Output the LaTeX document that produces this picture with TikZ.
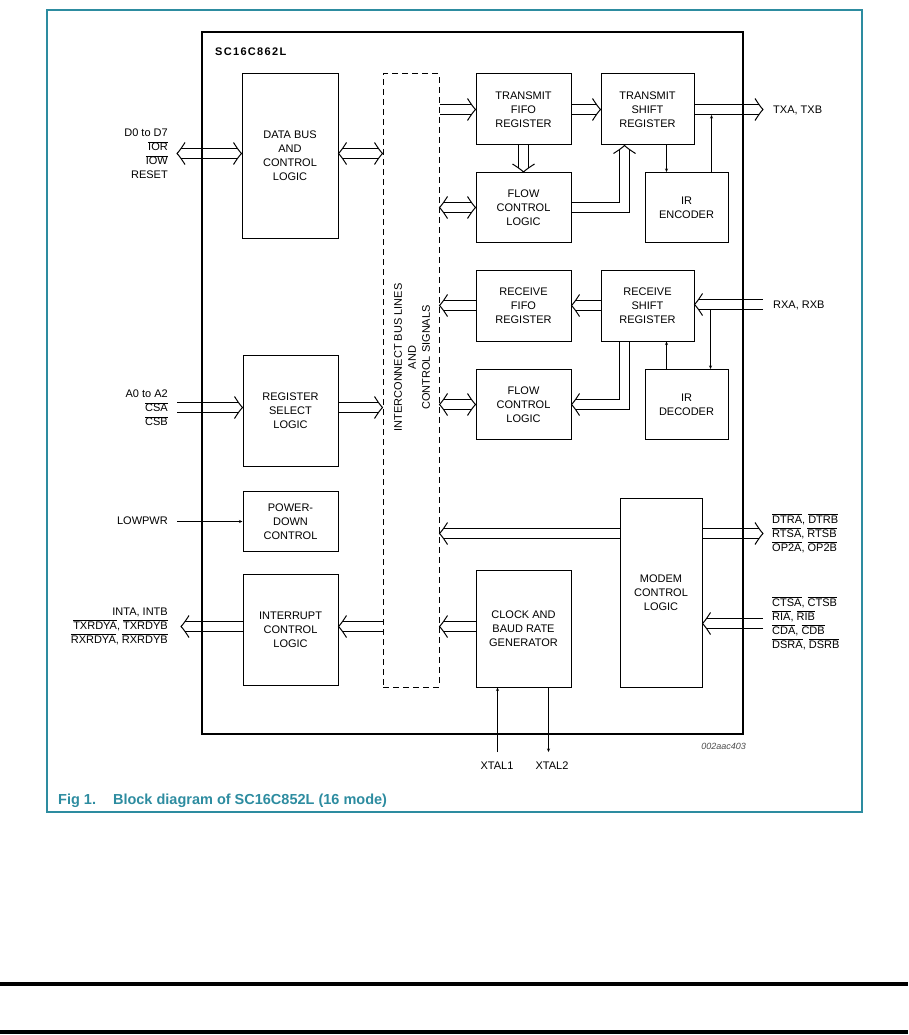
\documentclass[tikz,border=0pt]{standalone}
\usepackage{fontspec}
\setmainfont{Liberation Sans}
\usetikzlibrary{arrows.meta,backgrounds}
\definecolor{figteal}{RGB}{45,140,160}
\newcommand{\ovl}[1]{$\overline{\hbox{#1}}$}

\begin{document}
\begin{tikzpicture}[x=1pt,y=-1pt,
  blk/.style={draw,line width=1pt,align=center,inner sep=0pt,font=\fontsize{11}{14}\selectfont},
  bus/.style={double distance=9pt,line width=1pt},
  busE/.style={bus,shorten >=4pt},
  busB/.style={bus,shorten <=4pt,shorten >=4pt},
  bushd/.pic={\draw[line width=1pt] (-8,-11) .. controls (-6,-8) and (-3,-3) .. (0,0) .. controls (-3,3) and (-6,8) .. (-8,11);},
  sig/.style={line width=1pt,-{Stealth[length=3.5pt,width=3pt]}},
  pinlbl/.style={align=#1,inner sep=0pt,font=\fontsize{11}{14}\selectfont}]
  \useasboundingbox (0,0) rectangle (908,1035);
  \draw[figteal,line width=2pt] (47,10) rectangle (862,812);
  \fill (0,982) rectangle (908,986);
  \fill (0,1030) rectangle (908,1034);

  % chip outline and blocks
  \node[draw,line width=1.2pt,minimum width=541pt,minimum height=702pt] (chip) at (472.5,383) {};
  \node[anchor=west,inner sep=0pt,font=\fontsize{11}{13}\selectfont\bfseries\addfontfeature{LetterSpace=12}] (title) at (215,52) {SC16C862L};
  \node[blk,minimum width=96pt,minimum height=164pt] (databus) at (290,156) {DATA BUS\\AND\\CONTROL\\LOGIC};
  \node[draw,line width=1pt,minimum width=56pt,minimum height=613pt,dash pattern=on 6pt off 4pt] (icon) at (411,380.5) {};
  \node[pinlbl=center,rotate=90] (icontext) at (412,357.5) {INTERCONNECT BUS LINES\\AND\\CONTROL SIGNALS};
  \node[blk,minimum width=95pt,minimum height=71pt] (txfifo) at (523.5,109.5) {TRANSMIT\\FIFO\\REGISTER};
  \node[blk,minimum width=93pt,minimum height=71pt] (txshift) at (647.5,109.5) {TRANSMIT\\SHIFT\\REGISTER};
  \node[blk,minimum width=95pt,minimum height=70pt] (txflow) at (523.5,207.5) {FLOW\\CONTROL\\LOGIC};
  \node[blk,minimum width=83pt,minimum height=70pt] (irenc) at (686.5,207.5) {IR\\ENCODER};
  \node[blk,minimum width=95pt,minimum height=71pt] (rxfifo) at (523.5,305.5) {RECEIVE\\FIFO\\REGISTER};
  \node[blk,minimum width=93pt,minimum height=71pt] (rxshift) at (647.5,305.5) {RECEIVE\\SHIFT\\REGISTER};
  \node[blk,minimum width=95pt,minimum height=70pt] (rxflow) at (523.5,404.5) {FLOW\\CONTROL\\LOGIC};
  \node[blk,minimum width=83pt,minimum height=70pt] (irdec) at (686.5,404.5) {IR\\DECODER};
  \node[blk,minimum width=95pt,minimum height=111pt] (regsel) at (290.5,410.5) {REGISTER\\SELECT\\LOGIC};
  \node[blk,minimum width=95pt,minimum height=60pt] (pwrdn) at (290.5,521.5) {POWER-\\DOWN\\CONTROL};
  \node[blk,minimum width=95pt,minimum height=111pt] (intr) at (290.5,629.5) {INTERRUPT\\CONTROL\\LOGIC};
  \node[blk,minimum width=95pt,minimum height=117pt] (clock) at (523.5,628.5) {CLOCK AND\\BAUD RATE\\GENERATOR};
  \node[blk,minimum width=82pt,minimum height=189pt] (modem) at (661,592.5) {MODEM\\CONTROL\\LOGIC};

  % pin ends
  \coordinate (din) at (177,153.5);
  \coordinate (ain) at (177,407.5);
  \coordinate (lpin) at (177,521.5);
  \coordinate (iout) at (181,626.5);
  \coordinate (txout) at (763,109.5);
  \coordinate (rxin) at (763,304.5);
  \coordinate (mout) at (763,533.5);
  \coordinate (mdin) at (763,623.5);
  \coordinate (txtap) at (711.5,115);
  \coordinate (rxtap) at (710.5,310);
  \coordinate (xtalA) at (497.5,752);
  \coordinate (xtalB) at (548.5,752);

  % pin labels
  \node[pinlbl=right,anchor=east] (dlbl) at (168,154) {D0 to D7\\\ovl{IOR}\\\ovl{IOW}\\RESET};
  \node[pinlbl=right,anchor=east] (albl) at (168,408) {A0 to A2\\\ovl{CSA}\\\ovl{CSB}};
  \node[pinlbl=right,anchor=east] (lplbl) at (168,521) {LOWPWR};
  \node[pinlbl=right,anchor=east] (ilbl) at (168,626) {INTA, INTB\\\ovl{TXRDYA}, \ovl{TXRDYB}\\\ovl{RXRDYA}, \ovl{RXRDYB}};
  \node[pinlbl=left,anchor=west] (txlbl) at (773,110) {TXA, TXB};
  \node[pinlbl=left,anchor=west] (rxlbl) at (773,305) {RXA, RXB};
  \node[pinlbl=left,anchor=west] (molbl) at (772,533) {\ovl{DTRA}, \ovl{DTRB}\\\ovl{RTSA}, \ovl{RTSB}\\\ovl{OP2A}, \ovl{OP2B}};
  \node[pinlbl=left,anchor=west] (milbl) at (772,623) {\ovl{CTSA}, \ovl{CTSB}\\\ovl{RIA}, \ovl{RIB}\\\ovl{CDA}, \ovl{CDB}\\\ovl{DSRA}, \ovl{DSRB}};
  \node[pinlbl=center] (x1lbl) at (497,766) {XTAL1};
  \node[pinlbl=center] (x2lbl) at (552,766) {XTAL2};
  \node[anchor=east,inner sep=0pt,font=\fontsize{9}{10}\selectfont\itshape,text=black!70] (figid) at (746,746) {002aac403};
  \node[anchor=base west,inner sep=0pt,text=figteal,font=\fontsize{14.5}{16}\selectfont\bfseries] (caption) at (58,804) {Fig 1.\hspace{17pt}Block diagram of SC16C852L (16 mode)};

  % buses
  \begin{scope}[on background layer]
  \draw[busB] (din) -- (din -| databus.west);
  \pic[rotate=180] at (din) {bushd};
  \pic at (din -| databus.west) {bushd};
  \draw[busB] (databus.east |- din) -- (icon.west |- din);
  \pic[rotate=180] at (databus.east |- din) {bushd};
  \pic at (icon.west |- din) {bushd};
  \draw[busE] (icon.east |- txfifo.west) -- (txfifo.west);
  \pic at (txfifo.west) {bushd};
  \draw[busE] (txfifo.east) -- (txshift.west);
  \pic at (txshift.west) {bushd};
  \draw[busE] (txshift.east) -- (txout);
  \pic at (txout) {bushd};
  \draw[busE] (txfifo.south) -- (txflow.north);
  \pic[rotate=-90] at (txflow.north) {bushd};
  \draw[busB] (icon.east |- txflow.west) -- (txflow.west);
  \pic[rotate=180] at (icon.east |- txflow.west) {bushd};
  \pic at (txflow.west) {bushd};
  \draw[busE] (txflow.east) -| ([xshift=-23pt]txshift.south);
  \pic[rotate=90] at ([xshift=-23pt]txshift.south) {bushd};
  \draw[busE] (rxin) -- (rxin -| rxshift.east);
  \pic[rotate=180] at (rxin -| rxshift.east) {bushd};
  \draw[busE] (rxshift.west) -- (rxfifo.east);
  \pic[rotate=180] at (rxfifo.east) {bushd};
  \draw[busE] (rxfifo.west) -- (icon.east |- rxfifo.west);
  \pic[rotate=180] at (icon.east |- rxfifo.west) {bushd};
  \draw[busB] (icon.east |- rxflow.west) -- (rxflow.west);
  \pic[rotate=180] at (icon.east |- rxflow.west) {bushd};
  \pic at (rxflow.west) {bushd};
  \draw[busE] ([xshift=-23pt]rxshift.south) |- (rxflow.east);
  \pic[rotate=180] at (rxflow.east) {bushd};
  \draw[busE] (ain) -- (ain -| regsel.west);
  \pic at (ain -| regsel.west) {bushd};
  \draw[busE] (regsel.east |- ain) -- (icon.west |- ain);
  \pic at (icon.west |- ain) {bushd};
  \draw[busE] (modem.west |- mout) -- (icon.east |- mout);
  \pic[rotate=180] at (icon.east |- mout) {bushd};
  \draw[busE] (modem.east |- mout) -- (mout);
  \pic at (mout) {bushd};
  \draw[busE] (mdin) -- (mdin -| modem.east);
  \pic[rotate=180] at (mdin -| modem.east) {bushd};
  \draw[busE] (clock.west |- iout) -- (icon.east |- iout);
  \pic[rotate=180] at (icon.east |- iout) {bushd};
  \draw[busE] (icon.west |- iout) -- (intr.east |- iout);
  \pic[rotate=180] at (intr.east |- iout) {bushd};
  \draw[busE] (intr.west |- iout) -- (iout);
  \pic[rotate=180] at (iout) {bushd};
  \end{scope}

  % single signals
  \draw[sig] (lpin) -- (pwrdn.west);
  \draw[sig] ([xshift=19pt]txshift.south) -- ([xshift=19pt]txshift.south |- irenc.north);
  \draw[sig] (irenc.north -| txtap) -- (txtap);
  \draw[sig] ([xshift=-20pt]irdec.north) -- ([xshift=-20pt]irdec.north |- rxshift.south);
  \draw[sig] (rxtap) -- (rxtap |- irdec.north);
  \draw[sig] (xtalA) -- (xtalA |- clock.south);
  \draw[sig] (xtalB |- clock.south) -- (xtalB);
\end{tikzpicture}
\end{document}
